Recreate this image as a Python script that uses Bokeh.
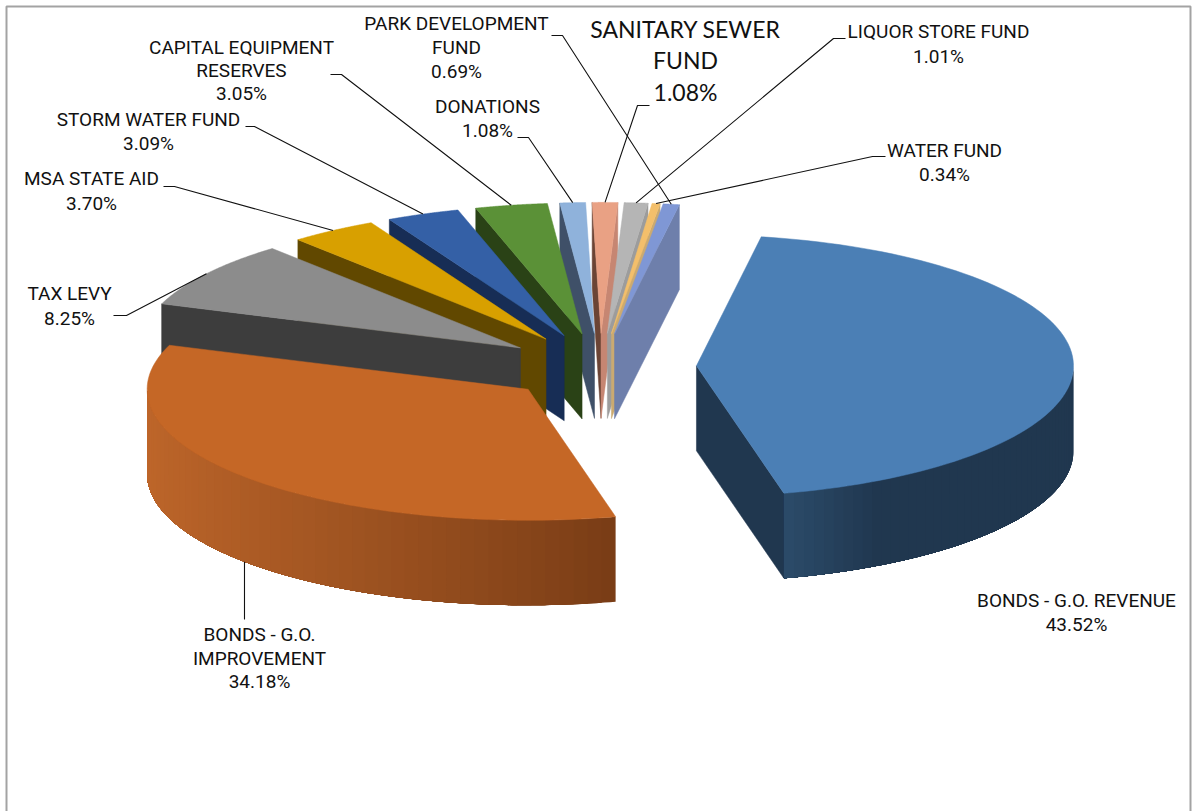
import numpy as np
from bokeh.core.properties import value
from bokeh.embed import file_html
from bokeh.models import Range1d
from bokeh.plotting import figure
from bokeh.resources import INLINE

# Funding sources in drawing order, clockwise from the first slice
categories = ["BONDS - G.O. REVENUE", "BONDS - G.O. IMPROVEMENT", "TAX LEVY", "MSA STATE AID",
              "STORM WATER FUND", "CAPITAL EQUIPMENT RESERVES", "DONATIONS", "SANITARY SEWER FUND",
              "LIQUOR STORE FUND", "WATER FUND", "PARK DEVELOPMENT FUND"]
shares = [43.52, 34.18, 8.25, 3.70, 3.09, 3.05, 1.08, 1.08, 1.01, 0.34, 0.69]

top_colors = ["#4B7FB5", "#C56726", "#8C8C8C", "#D8A000", "#3460A6", "#5B9137",
              "#8FB2DB", "#E9A184", "#B5B5B5", "#F3BF6B", "#7F97D5"]
left_wall_colors = ["#20374F", "#7A3D16", "#3D3D3D", "#614800", "#172D55", "#2A4216",
                    "#3F5068", "#6B4435", "#8A8A8A", "#B08A4A", "#55658F"]
right_wall_colors = ["#20374F", "#7A3D16", "#3D3D3D", "#614800", "#172D55", "#2A4216",
                     "#3F5068", "#C68672", "#9C9C9C", "#CBAA70", "#6E7FAB"]
# Shading along the curved outer wall: (light end, dark end)
rim_colors = {0: ("#2C4C6B", "#20374F"), 1: ("#BE662A", "#7A3D16")}

# Label lines, centre x and baseline-middle y of each line
label_lines = [["BONDS - G.O. REVENUE", "43.52%"], ["BONDS - G.O.", "IMPROVEMENT", "34.18%"],
               ["TAX LEVY", "8.25%"], ["MSA STATE AID", "3.70%"], ["STORM WATER FUND", "3.09%"],
               ["CAPITAL EQUIPMENT", "RESERVES", "3.05%"], ["DONATIONS", "1.08%"],
               ["SANITARY SEWER", "FUND", "1.08%"], ["LIQUOR STORE FUND", "1.01%"],
               ["WATER FUND", "0.34%"], ["PARK DEVELOPMENT", "FUND", "0.69%"]]
label_x = [1076, 259, 69, 91, 148, 241, 487, 685, 938, 944, 456]
label_y = [[600, 624], [634, 658, 681], [293, 318], [178, 203], [119, 143],
           [47, 70, 93], [106, 130], [28, 59, 91], [31, 56], [150, 174], [23, 47, 71]]

# Leader line start points near each label, before the elbow
leader_from = [None, (244, 619), (113, 315), (163, 186), (245, 126), (330, 74), (517, 137),
               (649, 105), (845, 38), (885, 156), (551, 35)]
leader_elbow = [None, None, (126, 315), (174, 186), (254, 126), (341, 74), (528, 137),
                (637, 105), (833, 38), (872, 156), (562, 35)]

# Pie projection: centre, radii of the tilted disc, explosion distance, thickness.
# The left half of the disc sits slightly closer to the camera.
CX, CY = 599.5, 366.4
RX_RIGHT, RX_LEFT, RY = 377.0, 381.0, 131.0
EXPLODE = 96.5
DEPTH = 85.0
START_DEG = 9.9
FONT = value("Roboto")


def project(cx, cy, deg):
    r = np.radians(deg)
    s = np.sin(r)
    return cx + np.where(s < 0, RX_LEFT, RX_RIGHT) * s, cy - RY * np.cos(r)


def mix(a, b, t):
    ca = [int(a[i:i + 2], 16) for i in (1, 3, 5)]
    cb = [int(b[i:i + 2], 16) for i in (1, 3, 5)]
    return "#%02x%02x%02x" % tuple(round(x + (y - x) * t) for x, y in zip(ca, cb))


p = figure(width=1195, height=811, output_backend="svg", toolbar_location=None,
           x_range=Range1d(0, 1195), y_range=Range1d(811, 0), min_border=0,
           outline_line_color=None, background_fill_color="white", border_fill_color="white")
p.axis.visible = False
p.grid.visible = False

# Outer frame, open at the bottom
p.line([6, 6, 1190, 1190], [811, 6, 6, 811], line_color="#a3a3a3", line_width=2)

totals = np.cumsum([0] + shares) / sum(shares) * 360.0 + START_DEG
slices = []
for i, share in enumerate(shares):
    a0, a1 = totals[i], totals[i + 1]
    mid = np.radians((a0 + a1) / 2)
    ax = CX + EXPLODE * np.sin(mid)
    ay = CY - EXPLODE * (RY / RX_RIGHT) * np.cos(mid)
    slices.append(dict(i=i, a0=a0, a1=a1, mid=mid, ax=ax, ay=ay))

# Painted from the back of the disc towards the viewer
for s in sorted(slices, key=lambda d: -np.cos(d["mid"])):
    i, a0, a1, ax, ay = s["i"], s["a0"], s["a1"], s["ax"], s["ay"]

    # Cut faces that turn towards the viewer
    if np.sin(np.radians(a0)) < 0:
        x0, y0 = project(ax, ay, a0)
        p.patch([ax, x0, x0, ax], [ay, y0, y0 + DEPTH, ay + DEPTH],
                fill_color=left_wall_colors[i], line_color=left_wall_colors[i], line_width=0.5)
    if np.sin(np.radians(a1)) > 0:
        x1, y1 = project(ax, ay, a1)
        p.patch([ax, x1, x1, ax], [ay, y1, y1 + DEPTH, ay + DEPTH],
                fill_color=right_wall_colors[i], line_color=right_wall_colors[i], line_width=0.5)

    # Curved outer wall, only where the rim faces the viewer. Each band runs to the far
    # end of the rim and the next one overlays it, so no seams open between bands.
    lo, hi = max(a0, 90.0), min(a1, 270.0)
    if hi > lo and i in rim_colors:
        light, dark = rim_colors[i]
        bands = 48
        starts = np.linspace(lo, hi, bands, endpoint=False)
        for k, start in enumerate(starts):
            arc = np.linspace(start, hi, 120)
            rx, ry = project(ax, ay, arc)
            if i == 0:
                # light only next to the cut corner
                t = min(1.0, (hi - start) / 16.0)
            else:
                t = ((hi - start) / (hi - lo)) ** 1.6
            color = mix(light, dark, t)
            p.patch(np.r_[rx, rx[::-1]], np.r_[ry, ry[::-1] + DEPTH],
                    fill_color=color, line_color=None)

    # Top face
    arc = np.linspace(a0, a1, 90)
    ex, ey = project(ax, ay, arc)
    p.patch(np.r_[ax, ex], np.r_[ay, ey], fill_color=top_colors[i], line_color=top_colors[i],
            line_width=0.5)

# Leader lines end on the rim at the middle of each slice
for s in slices:
    i = s["i"]
    if leader_from[i] is None:
        continue
    ex, ey = project(s["ax"], s["ay"], np.degrees(s["mid"]))
    if i == 1:
        ey += DEPTH
    pts = [leader_from[i]] + ([leader_elbow[i]] if leader_elbow[i] else []) + [(ex, ey)]
    p.line([q[0] for q in pts], [q[1] for q in pts], line_color="#111111", line_width=1.1)

# Category and share labels
for i, lines in enumerate(label_lines):
    sanitary = categories[i] == "SANITARY SEWER FUND"
    p.text(x=[label_x[i]] * len(lines), y=label_y[i], text=lines,
           text_align="center", text_baseline="middle", text_color="#111111",
           text_font=value("Lato") if sanitary else FONT,
           text_font_size="23px" if sanitary else "19px")

open("out.html", "w").write(file_html(p, INLINE))
